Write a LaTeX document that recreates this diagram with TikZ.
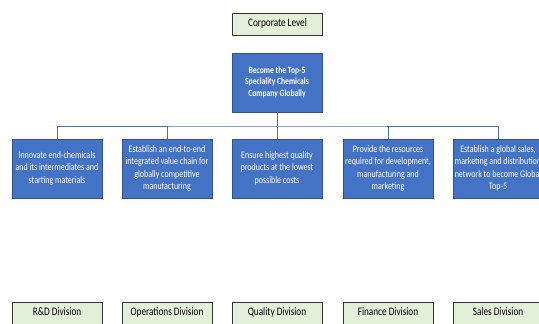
\documentclass[tikz,border=0pt]{standalone}
\usepackage{fontspec}
\setmainfont{Carlito}
\usepackage{graphicx}
\definecolor{boxblue}{HTML}{4472C4}
\definecolor{boxedge}{HTML}{2F528F}
\definecolor{levelgreen}{HTML}{E2F0D9}
\definecolor{leveledge}{HTML}{333333}
% condensed multi-line label
\newcommand{\narrowtext}[1]{\scalebox{0.8}[1]{\begin{tabular}{@{}c@{}}#1\end{tabular}}}
\tikzset{
  levelbox/.style={draw=leveledge, fill=levelgreen, line width=0.8pt,
    minimum width=90pt, minimum height=22pt, inner sep=0pt,
    font=\fontsize{11.5}{13}\selectfont},
  goalbox/.style={draw=boxedge, fill=boxblue, line width=0.5pt, text=white,
    minimum width=90pt, minimum height=59pt, inner sep=0pt,
    font=\fontsize{10}{12.2}\selectfont},
  bus/.style={draw=boxblue, line width=1pt}
}
\begin{document}
\begin{tikzpicture}[x=1pt,y=-1pt]
\useasboundingbox (0,0) rectangle (539,324);
\clip (0,0) rectangle (539,324);

% corporate level
\node[levelbox] (corp) at (277.5,24) {\narrowtext{Corporate Level}};
\node[goalbox, font=\fontsize{9.5}{11.6}\selectfont\bfseries] (top) at (277,82.5)
  {\narrowtext{Become the Top-5\\Speciality Chemicals\\Company Globally}};

% divisional goals
\node[goalbox] (g1) at (57,168.5)  {\narrowtext{Innovate end-chemicals\\and its intermediates and\\starting materials}};
\node[goalbox] (g2) at (167,168.5) {\narrowtext{Establish an end-to-end\\integrated value chain for\\globally competitive\\manufacturing}};
\node[goalbox] (g3) at (277,168.5) {\narrowtext{Ensure highest quality\\products at the lowest\\possible costs}};
\node[goalbox] (g4) at (388,168.5) {\narrowtext{Provide the resources\\required for development,\\manufacturing and\\marketing}};
\node[goalbox] (g5) at (498,168.5) {\narrowtext{Establish a global sales,\\marketing and distribution\\network to become Global\\Top-5}};

% connectors
\coordinate (hub) at (277,126);
\draw[bus] (top.south) -- (hub);
\draw[bus] (g1.north) |- (hub) -| (g5.north);
\foreach \g in {g2,g3,g4} \draw[bus] (\g.north) -- (\g.north |- hub);

% division level
\node[levelbox] (d1) at (57,313)  {\narrowtext{R\&D Division}};
\node[levelbox] (d2) at (167,313) {\narrowtext{Operations Division}};
\node[levelbox] (d3) at (277,313) {\narrowtext{Quality Division}};
\node[levelbox] (d4) at (388,313) {\narrowtext{Finance Division}};
\node[levelbox] (d5) at (498,313) {\narrowtext{Sales Division}};
\end{tikzpicture}
\end{document}
